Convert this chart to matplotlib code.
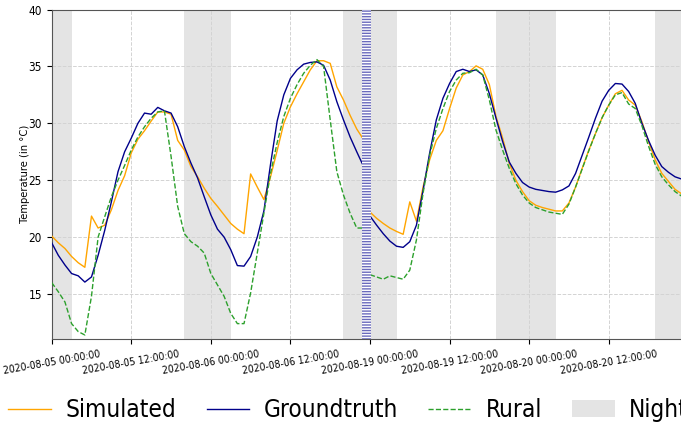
import matplotlib
matplotlib.use("Agg")
import matplotlib.pyplot as plt
import numpy as np

plt.rcParams["font.stretch"] = "condensed"

# hourly values, 2020-08-05/06 (first 48) then 2020-08-19/20 (last 48)
simulated = [
    20.1, 19.5, 19.0, 18.3, 17.75, 17.35, 21.85, 20.8, 21.05, 22.4, 24.1, 25.4,
    27.4, 28.6, 29.35, 30.2, 31.0, 31.0, 30.8, 28.5, 27.65, 26.2, 25.3, 24.3,
    23.4, 22.7, 21.95, 21.2, 20.7, 20.3, 25.55, 24.4, 23.3, 25.3, 27.6, 30.0,
    31.45, 32.6, 33.65, 34.7, 35.5, 35.5, 35.27, 33.2, 32.05, 30.7, 29.5, 28.6,
    22.2, 21.65, 21.2, 20.8, 20.5, 20.25, 23.1, 21.4, 24.4, 26.8, 28.5, 29.35,
    31.3, 33.1, 34.25, 34.55, 35.05, 34.75, 33.4, 30.6, 28.7, 26.5, 25.0, 24.0,
    23.2, 22.8, 22.6, 22.45, 22.3, 22.3, 23.0, 24.4, 26.05, 27.65, 29.1, 30.5,
    31.6, 32.6, 32.9, 32.05, 31.6, 30.15, 28.4, 26.8, 25.6, 24.9, 24.2, 23.8,
]
groundtruth = [
    19.5, 18.4, 17.55, 16.8, 16.6, 16.05, 16.5, 18.4, 20.6, 23.1, 25.75, 27.5,
    28.7, 30.0, 30.9, 30.8, 31.4, 31.1, 30.9, 29.7, 27.95, 26.5, 25.2, 23.55,
    21.95, 20.7, 20.0, 18.9, 17.5, 17.45, 18.3, 20.0, 22.3, 26.4, 30.2, 32.5,
    33.95, 34.7, 35.2, 35.35, 35.4, 35.1, 33.8, 31.9, 30.3, 28.8, 27.5, 26.25,
    21.85, 21.05, 20.3, 19.65, 19.2, 19.1, 19.6, 21.05, 24.1, 27.4, 30.3, 32.2,
    33.5, 34.55, 34.75, 34.55, 34.7, 34.25, 32.6, 30.45, 28.4, 26.6, 25.6, 24.8,
    24.4, 24.2, 24.1, 24.0, 23.95, 24.15, 24.5, 25.6, 27.2, 28.8, 30.45, 31.95,
    32.9, 33.5, 33.45, 32.8, 31.75, 30.0, 28.5, 27.2, 26.2, 25.7, 25.3, 25.1,
]
rural = [
    16.0, 15.2, 14.3, 12.4, 11.7, 11.4, 14.8, 20.0, 21.8, 23.55, 25.0, 26.3,
    27.65, 28.8, 29.7, 30.45, 31.0, 31.1, 27.1, 22.7, 20.3, 19.6, 19.2, 18.6,
    16.8, 15.8, 14.8, 13.3, 12.4, 12.4, 15.1, 18.6, 22.1, 25.6, 28.3, 30.6,
    32.2, 33.4, 34.4, 35.1, 35.6, 35.0, 30.3, 25.75, 23.7, 22.1, 20.8, 20.8,
    16.7, 16.5, 16.3, 16.6, 16.45, 16.3, 17.1, 19.75, 23.85, 27.2, 29.55, 31.3,
    32.8, 33.8, 34.4, 34.45, 34.75, 34.25, 32.05, 29.4, 27.65, 26.05, 24.7, 23.7,
    23.0, 22.6, 22.4, 22.2, 22.1, 22.0, 22.9, 24.4, 26.0, 27.6, 29.1, 30.5,
    31.6, 32.5, 32.7, 31.7, 31.3, 29.8, 28.0, 26.4, 25.3, 24.6, 24.0, 23.6,
]
tick_labels = [
    "2020-08-05 00:00:00", "2020-08-05 12:00:00",
    "2020-08-06 00:00:00", "2020-08-06 12:00:00",
    "2020-08-19 00:00:00", "2020-08-19 12:00:00",
    "2020-08-20 00:00:00", "2020-08-20 12:00:00",
]
# night periods in hour index
nights = [(0, 3), (20, 27), (44, 52), (67, 76), (91, 96)]
SEG = 48  # hours per date block

fig = plt.figure(figsize=(6.81, 4.25), dpi=100)
ax = fig.add_axes([0.0759, 0.2024, 0.9251, 0.7752])

for a, b in nights:
    ax.axvspan(a, b, color="lightgray", alpha=0.6, lw=0, zorder=0)

hours = np.arange(len(simulated))
series = [
    (simulated, "orange", "-", "Simulated"),
    (groundtruth, "darkblue", "-", "Groundtruth"),
    (rural, "#2ca02c", "--", "Rural"),
]
for vals, col, ls, lab in series:
    vals = np.array(vals)
    for k, s in enumerate(range(0, len(vals), SEG)):
        ax.plot(hours[s:s + SEG], vals[s:s + SEG], color=col, ls=ls, lw=1,
                label=lab if k == 0 else None, zorder=3)

# break marker between the two date blocks
ax.axvspan(SEG - 1.15, SEG + 0.15, facecolor="#6a6abc", lw=0, zorder=4)
ax.axvspan(SEG - 1.15, SEG + 0.15, facecolor="none", edgecolor="white",
           hatch="------", lw=0, zorder=5)

ax.set_xlim(0, 95)
ax.set_ylim(11.05, 40)
ax.set_yticks([15, 20, 25, 30, 35, 40])
ax.set_xticks(np.arange(0, 96, 12))
ax.set_xticklabels(tick_labels, rotation=10, ha="center", fontsize=7.5)
ax.tick_params(axis="y", labelsize=8.5)
ax.set_ylabel("Temperature (in °C)", fontsize=8, labelpad=-1)
ax.grid(True, ls="--", color="lightgray", lw=0.7)
for sp in ax.spines.values():
    sp.set_color("#555555")

handles, labels = ax.get_legend_handles_labels()
night_patch = plt.Rectangle((0, 0), 1, 1, color="lightgray", alpha=0.6, lw=0)
fig.legend(handles + [night_patch], labels + ["Night"], loc="center left",
           bbox_to_anchor=(-0.02, 0.035), ncol=4, frameon=False,
           prop={"size": 17.5}, handlelength=1.75, handletextpad=0.6,
           columnspacing=1.25)

fig.savefig("out.png", dpi=100)
